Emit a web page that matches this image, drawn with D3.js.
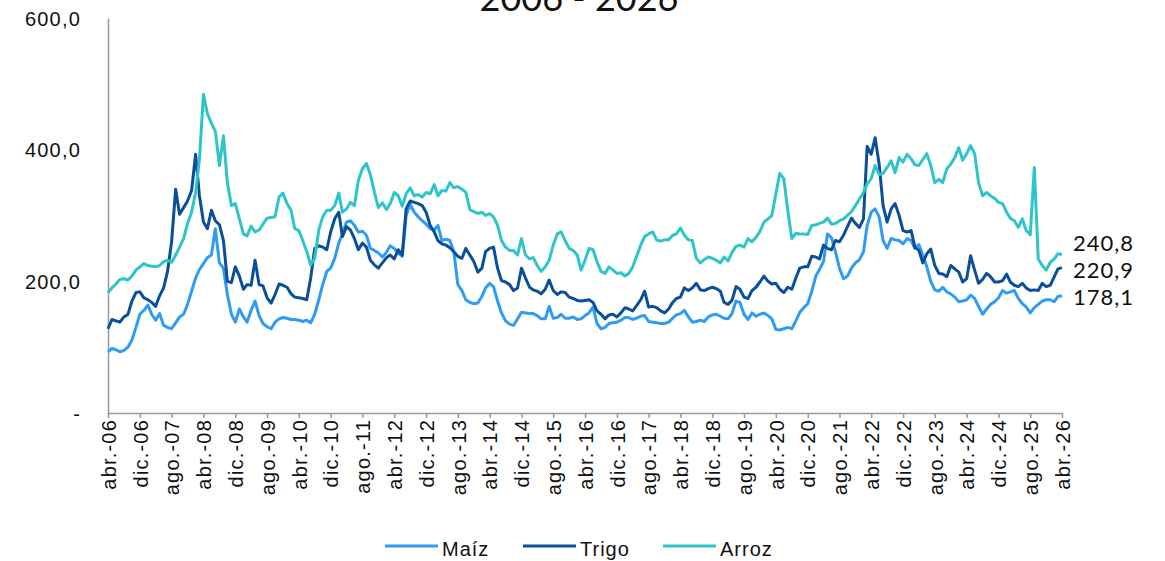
<!DOCTYPE html>
<html>
<head>
<meta charset="utf-8">
<script src="https://cdn.jsdelivr.net/npm/d3@7"></script>
<style>
  body { margin: 0; background: #fff; }
  svg { display: block; }
  .tick-label { font-family: "Liberation Sans", Arial, sans-serif; font-size: 20px; letter-spacing: 1.2px; fill: #111; }
  .legend-label { font-family: "Liberation Sans", Arial, sans-serif; font-size: 20px; letter-spacing: 1px; fill: #111; }
  .big-label { font-family: Lato, "Noto Sans", sans-serif; fill: #111; }
</style>
</head>
<body>
<div id="chart"></div>
<script>
// monthly values, abr-06 .. abr-26 (one row per year, starting in April)
const maiz = [
  93, 98, 96, 93, 95, 100, 111, 130, 150, 156, 164, 150,
  141, 151, 133, 130, 128, 137, 146, 150, 165, 185, 205, 218,
  227, 236, 240, 280, 228, 220, 180, 150, 138, 158, 146, 138,
  156, 170, 148, 136, 131, 128, 138, 143, 145, 144, 142, 142,
  141, 139, 141, 137, 150, 172, 195, 215, 220, 235, 258, 272,
  290, 292, 285, 275, 276, 270, 250, 247, 243, 237, 244, 254,
  250, 243, 238, 300, 317, 305, 298, 292, 287, 280, 278, 285,
  262, 264, 262, 245, 195, 186, 172, 168, 166, 167, 177, 190,
  197, 192, 170, 152, 140, 135, 133, 143, 153, 152, 151, 151,
  148, 143, 143, 162, 144, 145, 150, 144, 144, 146, 142, 143,
  148, 152, 161, 136, 128, 130, 136, 137, 138, 141, 145, 145,
  142, 144, 147, 148, 139, 138, 137, 136, 136, 138, 144, 149,
  151, 156, 146, 138, 139, 141, 139, 146, 149, 150, 147, 144,
  143, 151, 170, 168, 150, 142, 152, 147, 150, 152, 148, 143,
  127, 126, 128, 130, 128, 140, 153, 160, 166, 185, 208, 218,
  230, 272, 266, 245, 220, 204, 208, 220, 228, 233, 245, 285,
  305, 310, 298, 262, 250, 265, 263, 262, 257, 265, 262, 250,
  256, 240, 222, 200, 187, 185, 191, 184, 181, 176, 169, 170,
  172, 179, 174, 162, 150, 158, 165, 169, 175, 186, 182, 184,
  186, 174, 166, 161, 152, 160, 165, 170, 172, 172, 169, 177,
  178.1
];

const trigo = [
  128, 142, 140, 138, 146, 150, 170, 183, 184, 175, 172, 168,
  162, 178, 190, 215, 260, 340, 302, 312, 322, 338, 393, 330,
  290, 280, 308, 292, 286, 262, 200, 198, 222, 208, 188, 195,
  194, 232, 195, 193, 175, 167, 180, 196, 194, 191, 181, 176,
  175, 174, 172, 205, 250, 254, 252, 248, 275, 295, 305, 268,
  283, 278, 265, 248, 258, 252, 232, 225, 220, 228, 236, 240,
  234, 248, 240, 310, 322, 320, 318, 315, 305, 285, 275, 262,
  257, 255, 251, 245, 238, 235, 250, 240, 230, 214, 220, 245,
  250, 252, 220, 201, 199, 195, 186, 190, 220, 205, 191, 187,
  185, 181, 188, 202, 186, 180, 184, 183, 176, 174, 171, 170,
  171, 172, 168, 155, 150, 143, 149, 150, 146, 152, 160, 158,
  155, 163, 172, 185, 161, 162, 160, 155, 152, 158, 168, 174,
  176, 190, 186, 190, 197, 187, 186, 189, 191, 189, 185, 168,
  165, 171, 192, 188, 176, 174, 186, 191, 199, 208, 200, 196,
  197, 188, 183, 191, 188, 205, 220, 222, 222, 238, 237, 234,
  255, 250, 248, 262, 260, 270, 283, 296, 288, 282, 295, 405,
  393, 418, 378, 315, 290, 310, 318, 300, 277, 275, 277, 252,
  247, 228, 242, 249, 224, 212, 211, 207, 224, 219, 214, 199,
  204, 239, 217, 197, 203, 212, 207, 199, 199, 201, 211, 199,
  194, 192, 197, 190, 186, 187, 186, 197, 192, 194, 207, 219,
  220.9
];

const arroz = [
  183, 190, 196, 203, 204, 202, 208, 217, 222, 227, 224, 223,
  222, 224, 230, 232, 229, 240, 252, 265, 288, 305, 335, 385,
  484, 455, 440, 428, 376, 421, 350, 315, 318, 295, 272, 269,
  284, 275, 278, 287, 296, 297, 298, 328, 334, 318, 308, 280,
  277, 262, 245, 225, 235, 278, 298, 308, 308, 315, 334, 305,
  310, 320, 315, 353, 371, 379, 362, 335, 312, 319, 309, 318,
  335, 330, 314, 333, 342, 330, 332, 328, 335, 333, 347, 330,
  338, 337, 350, 342, 344, 340, 335, 309, 306, 303, 305, 300,
  303, 298, 285, 262, 252, 247, 247, 240, 265, 240, 234, 236,
  224, 215, 222, 232, 255, 272, 275, 262, 250, 247, 240, 217,
  232, 250, 248, 230, 215, 212, 222, 217, 212, 213, 208, 212,
  222, 238, 255, 268, 272, 275, 263, 261, 263, 263, 270, 272,
  281, 270, 263, 262, 235, 228, 233, 237, 235, 232, 228, 237,
  231, 244, 253, 255, 252, 265, 260, 267, 276, 290, 295, 300,
  333, 364, 356, 308, 265, 273, 272, 272, 271, 285, 286, 288,
  290, 296, 287, 288, 292, 295, 300, 306, 315, 325, 335, 348,
  356, 376, 362, 364, 373, 383, 365, 388, 381, 393, 386, 377,
  376, 385, 394, 376, 350, 355, 350, 371, 378, 388, 403, 384,
  394, 406, 394, 350, 330, 335, 330, 326, 320, 318, 305, 296,
  292, 282, 295, 277, 271, 373, 234, 224, 217, 229, 234, 242,
  240.8
];

const seriesNames = ["Maíz", "Trigo", "Arroz"];
const seriesColors = ["#2f9bf2", "#0b4f98", "#2ec5ca"];
const yTicks = [0, 200, 400, 600];
const monthNames = ["ene", "feb", "mar", "abr", "may", "jun", "jul", "ago", "sep", "oct", "nov", "dic"];
const titleText = "2006 - 2026";

const width = 1165, height = 561;
const firstMonth = new Date(2006, 3, 1);
const dates = maiz.map((d, i) => d3.timeMonth.offset(firstMonth, i));

const x = d3.scaleTime()
  .domain([dates[0], dates[dates.length - 1]])
  .range([108, 1062]);

const y = d3.scaleLinear()
  .domain([0, 600])
  .range([413, 18]);

const svg = d3.select("#chart").append("svg")
  .attr("width", width)
  .attr("height", height);

// title (mostly cut off at the top, as in the source)
svg.append("text")
  .attr("class", "big-label")
  .attr("x", 579)
  .attr("y", 11)
  .attr("text-anchor", "middle")
  .style("font-size", "36px")
  .text(titleText);

// y axis
const fmt = v => v === 0 ? "-" : d3.format(".1f")(v).replace(".", ",");

const yAxis = svg.append("g")
  .attr("transform", "translate(108,0)")
  .call(d3.axisLeft(y).tickValues(yTicks).tickSize(0).tickPadding(27).tickFormat(fmt));
yAxis.select(".domain").attr("stroke", "#999").attr("stroke-width", 1.5);
yAxis.selectAll("text")
  .attr("class", "tick-label")
  .attr("font-family", null).attr("font-size", null)
  .attr("dy", "0.36em");

// x axis
const xTickDates = dates.filter((d, i) => i % 8 === 0);
const xAxis = svg.append("g")
  .attr("transform", "translate(0,413)")
  .call(d3.axisBottom(x)
    .tickValues(xTickDates)
    .tickSize(5)
    .tickSizeOuter(0)
    .tickFormat(d => monthNames[d.getMonth()] + ".-" + String(d.getFullYear()).slice(2)));
xAxis.select(".domain").attr("stroke", "#999").attr("stroke-width", 1.5);
xAxis.selectAll(".tick line").attr("stroke", "#999").attr("stroke-width", 1.5);
xAxis.selectAll("text")
  .attr("class", "tick-label")
  .attr("font-family", null).attr("font-size", null)
  .attr("transform", "rotate(-90)")
  .attr("text-anchor", "end")
  .attr("x", -6)
  .attr("y", 0)
  .attr("dy", "0.36em");

// lines
const line = d3.line()
  .x((d, i) => x(dates[i]))
  .y(d => y(d));

[maiz, trigo, arroz].forEach((s, k) => {
  svg.append("path")
    .datum(s)
    .attr("fill", "none")
    .attr("stroke", seriesColors[k])
    .attr("stroke-width", 3)
    .attr("stroke-linejoin", "round")
    .attr("d", line);
});

// end value labels
const endOffsets = [9.5, 10.5, -3]; // keep labels apart
[maiz, trigo, arroz].forEach((s, k) => {
  const last = s[s.length - 1];
  svg.append("text")
    .attr("class", "big-label")
    .attr("x", 1134)
    .attr("y", y(last) + endOffsets[k])
    .attr("text-anchor", "end")
    .style("font-size", "22px")
    .style("letter-spacing", "1px")
    .text(fmt(last));
});

// legend
const legendX = [385, 523, 663];
seriesNames.forEach((name, k) => {
  const g = svg.append("g").attr("transform", `translate(${legendX[k]},546)`);
  g.append("line")
    .attr("x1", 0).attr("x2", 53)
    .attr("stroke", seriesColors[k])
    .attr("stroke-width", 3);
  g.append("text")
    .attr("class", "legend-label")
    .attr("x", 57)
    .attr("y", 10)
    .text(name);
});
</script>
</body>
</html>
